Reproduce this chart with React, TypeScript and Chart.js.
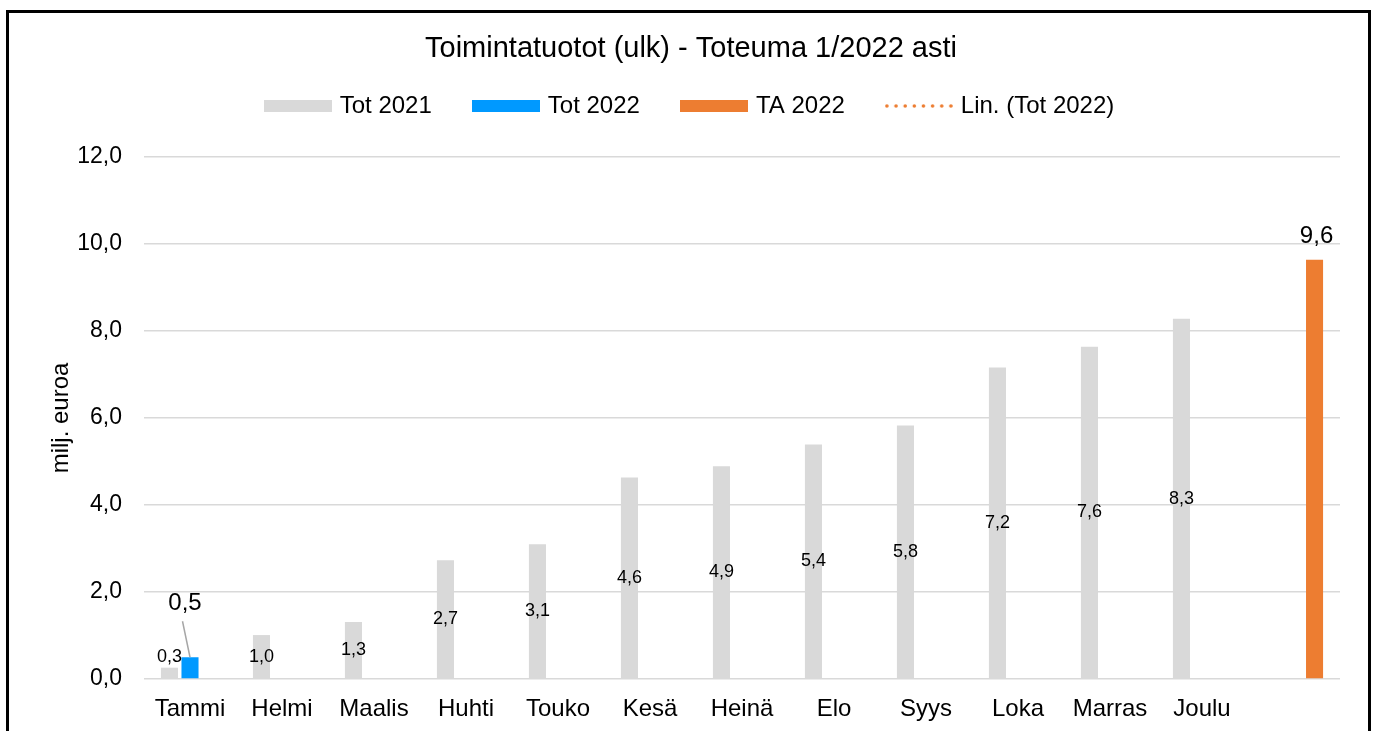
import { useEffect, useRef } from 'react';
import { Chart, registerables } from 'chart.js';

Chart.register(...registerables);

const categories = ['Tammi', 'Helmi', 'Maalis', 'Huhti', 'Touko', 'Kesä', 'Heinä', 'Elo', 'Syys', 'Loka', 'Marras', 'Joulu', ''];
const tot2021 = [0.26, 1.01, 1.31, 2.73, 3.1, 4.63, 4.89, 5.39, 5.83, 7.16, 7.64, 8.28, null];
const tot2022 = [0.5, null, null, null, null, null, null, null, null, null, null, null, null];
const ta2022 = [null, null, null, null, null, null, null, null, null, null, null, null, 9.64];
const trend2022: (number | null)[] = [];
const seriesNames = ['Tot 2021', 'Tot 2022', 'TA 2022', 'Lin. (Tot 2022)'];
const titleText = 'Toimintatuotot (ulk) - Toteuma 1/2022 asti';
const yTitle = 'milj. euroa';
const yMin = 0;
const yMax = 12;
const yStep = 2;

const GREY = '#d9d9d9';
const BLUE = '#0099ff';
const ORANGE = '#ed7d31';
const FONT = "'Liberation Sans', Arial, sans-serif";

const fmt = (v: number) => v.toFixed(1).replace('.', ',');

const labelPlugin = {
  id: 'valueLabels',
  afterDatasetsDraw(chart: any) {
    const ctx = chart.ctx as CanvasRenderingContext2D;
    ctx.save();
    ctx.textAlign = 'center';
    ctx.textBaseline = 'middle';
    chart.data.datasets.forEach((ds: any, di: number) => {
      if (!ds.labelMode) return;
      const meta = chart.getDatasetMeta(di);
      meta.data.forEach((el: any, j: number) => {
        const v = ds.data[j];
        if (v == null) return;
        const { x, y, base } = el.getProps(['x', 'y', 'base'], true);
        const txt = fmt(v);
        ctx.fillStyle = '#000';
        if (ds.labelMode === 'center') {
          ctx.font = `18px ${FONT}`;
          const ty = Math.min((y + base) / 2, base - 21);
          ctx.fillText(txt, x, ty);
        } else if (ds.labelMode === 'callout') {
          ctx.strokeStyle = '#a6a6a6';
          ctx.lineWidth = 1.5;
          ctx.beginPath();
          ctx.moveTo(x - 7.5, y - 36);
          ctx.lineTo(x, y);
          ctx.stroke();
          ctx.font = `24px ${FONT}`;
          ctx.fillText(txt, x - 5, y - 54);
        } else if (ds.labelMode === 'top') {
          ctx.font = `24px ${FONT}`;
          ctx.fillText(txt, x + 2, y - 23);
        }
      });
    });
    ctx.restore();
  },
};

export default function App() {
  const ref = useRef<HTMLCanvasElement>(null);

  useEffect(() => {
    const canvas = ref.current;
    if (!canvas) return;
    const mk = (w: number, h: number, draw: (g: CanvasRenderingContext2D) => void) => {
      const c = document.createElement('canvas');
      c.width = w;
      c.height = h;
      draw(c.getContext('2d') as CanvasRenderingContext2D);
      return c;
    };
    const icons = [
      mk(68, 12, (g) => { g.fillStyle = GREY; g.fillRect(0, 0, 68, 12); }),
      mk(68, 12, (g) => { g.fillStyle = BLUE; g.fillRect(0, 0, 68, 12); }),
      mk(68, 12, (g) => { g.fillStyle = ORANGE; g.fillRect(0, 0, 68, 12); }),
      mk(68, 6, (g) => {
        g.fillStyle = ORANGE;
        for (let k = 0; k < 8; k++) {
          g.beginPath();
          g.arc(2 + (k * 64) / 7, 3, 1.8, 0, Math.PI * 2);
          g.fill();
        }
      }),
    ];

    const chart = new Chart(canvas, {
      type: 'bar',
      data: {
        labels: categories,
        datasets: [
          { label: seriesNames[0], data: tot2021, backgroundColor: GREY, labelMode: 'center' } as any,
          { label: seriesNames[1], data: tot2022, backgroundColor: BLUE, labelMode: 'callout' } as any,
          { label: seriesNames[2], data: ta2022, backgroundColor: ORANGE, labelMode: 'top' } as any,
          {
            type: 'line',
            label: seriesNames[3],
            data: trend2022,
            borderColor: ORANGE,
            borderDash: [2, 4],
            borderWidth: 2,
            pointRadius: 0,
          } as any,
        ],
      },
      options: {
        responsive: false,
        animation: false,
        events: [],
        datasets: {
          bar: { categoryPercentage: 0.67, barPercentage: 0.83 },
        },
        layout: { padding: { left: 33, right: 28, top: 0, bottom: 0 } },
        plugins: {
          tooltip: { enabled: false },
          title: {
            display: true,
            text: titleText,
            color: '#000',
            font: { family: FONT, size: 29, weight: 'normal', lineHeight: 1.2 },
            padding: { top: 18.2, bottom: -16 },
          },
          subtitle: {
            display: true,
            text: '',
            weight: 500,
            font: { family: FONT, size: 10, lineHeight: 1 },
            padding: { top: 0, bottom: 19 },
          } as any,
          legend: {
            display: true,
            position: 'top',
            labels: {
              usePointStyle: true,
              pointStyleWidth: 60,
              boxHeight: 12,
              padding: 44,
              color: '#000',
              font: { family: FONT, size: 24 },
              generateLabels: (c: any) =>
                c.data.datasets.map((ds: any, i: number) => ({
                  text: ds.label,
                  pointStyle: icons[i],
                  fillStyle: 'transparent',
                  strokeStyle: 'transparent',
                  lineWidth: 0,
                  hidden: false,
                  datasetIndex: i,
                  fontColor: '#000',
                })),
            },
          } as any,
        },
        scales: {
          x: {
            grid: { display: false },
            border: { display: false },
            ticks: {
              color: '#000',
              font: { family: FONT, size: 24 },
              padding: 7.6,
              maxRotation: 0,
              autoSkip: false,
            },
            afterFit: (s: any) => {
              s.height = 52;
            },
          },
          y: {
            min: yMin,
            max: yMax,
            grid: { color: GREY, lineWidth: 1.5, drawTicks: false },
            border: { display: false },
            ticks: {
              stepSize: yStep,
              color: '#000',
              font: { family: FONT, size: 23 },
              padding: 22,
              callback: (v: any) => fmt(Number(v)),
            },
            title: {
              display: true,
              text: yTitle,
              color: '#000',
              font: { family: FONT, size: 24 },
              padding: { top: 4.6, bottom: 0 },
            },
            afterFit: (s: any) => {
              s.width = 102;
            },
          },
        },
      },
      plugins: [labelPlugin],
    } as any);

    return () => chart.destroy();
  }, []);

  return (
    <div style={{ position: 'fixed', inset: 0, overflow: 'hidden', background: '#fff' }}>
      <div
        style={{
          position: 'absolute',
          left: 6,
          top: 10,
          width: 1365,
          height: 800,
          border: '3px solid #000',
          boxSizing: 'border-box',
        }}
      >
        <canvas ref={ref} width={1359} height={718} style={{ display: 'block', width: 1359, height: 718 }} />
      </div>
    </div>
  );
}
